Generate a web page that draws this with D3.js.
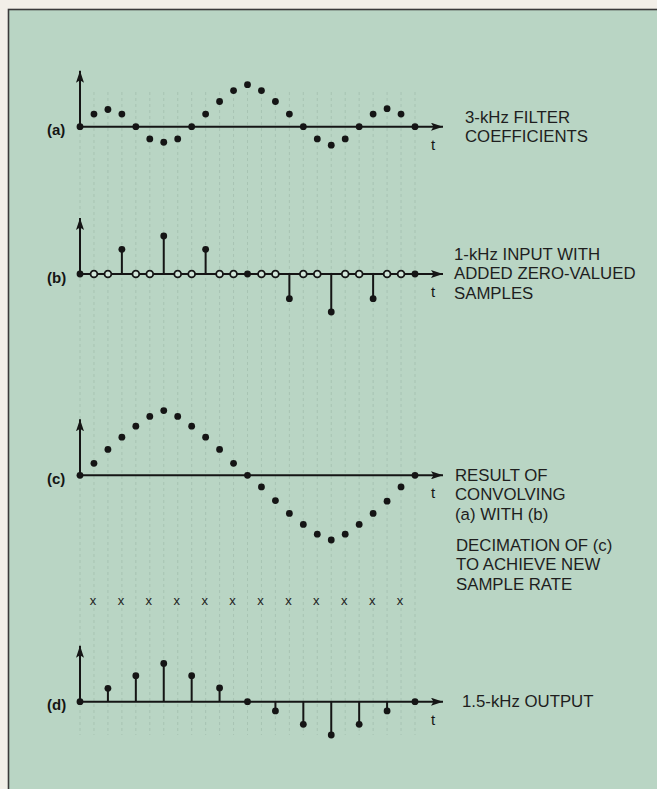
<!DOCTYPE html>
<html><head><meta charset="utf-8">
<script src="https://cdn.jsdelivr.net/npm/d3@7"></script>
<style>
html,body{margin:0;padding:0;background:#f2efe8;}
svg{display:block;}
</style></head>
<body>
<svg id="chart" width="657" height="789"></svg>
<script>
// ---- data (sample index 0..24) ----
const sampleIndex = d3.range(0, 25);
const filterCoeffs = [0, 0.30, 0.41, 0.30, 0, -0.29, -0.37, -0.29, 0, 0.30, 0.60, 0.86, 1.0, 0.86, 0.60, 0.30, 0, -0.29, -0.44, -0.29, 0, 0.30, 0.43, 0.30, 0];
const inputSamples = [0, 0, 0, 0.65, 0, 0, 1.0, 0, 0, 0.65, 0, 0, 0, 0, 0, -0.65, 0, 0, -1.0, 0, 0, -0.65, 0, 0, 0];
const inputIsOriginal = [1,0,0,1,0,0,1,0,0,1,0,0,1,0,0,1,0,0,1,0,0,1,0,0,1];
const convolved = [0, 0.185, 0.40, 0.59, 0.76, 0.91, 1.0, 0.91, 0.76, 0.59, 0.40, 0.185, 0, -0.18, -0.39, -0.59, -0.76, -0.91, -1.0, -0.91, -0.76, -0.59, -0.40, -0.18, 0];
const discardedIndex = [1, 3, 5, 7, 9, 11, 13, 15, 17, 19, 21, 23];
const outputIndex = [0, 2, 4, 6, 8, 10, 12, 14, 16, 18, 20, 22, 24];
const outputValues = [0, 0.35, 0.68, 1.0, 0.68, 0.36, 0, -0.24, -0.59, -0.87, -0.59, -0.24, 0];
const panelLetters = ["(a)", "(b)", "(c)", "(d)"];
const captions = [
  ["3-kHz FILTER", "COEFFICIENTS"],
  ["1-kHz INPUT WITH", "ADDED ZERO-VALUED", "SAMPLES"],
  ["RESULT OF", "CONVOLVING", "(a) WITH (b)"],
  ["1.5-kHz OUTPUT"]
];
const decimationCaption = ["DECIMATION OF (c)", "TO ACHIEVE NEW", "SAMPLE RATE"];

// ---- layout ----
const svg = d3.select("#chart");
const ink = "#151515";
const bg = "#b9d5c4";
svg.append("rect").attr("x", 8.5).attr("y", 9.5).attr("width", 660).attr("height", 800)
  .attr("fill", bg).attr("stroke", "#3a3a3a").attr("stroke-width", 1.6);

const x = d3.scaleLinear().domain([0, 24]).range([80, 415]);

// faint dashed guide lines
svg.append("g").selectAll("line").data(sampleIndex).join("line")
  .attr("x1", d => x(d)).attr("x2", d => x(d))
  .attr("y1", 92).attr("y2", 735)
  .attr("stroke", "#8fab9b").attr("stroke-opacity", 0.4)
  .attr("stroke-width", 1).attr("stroke-dasharray", "3,3");

const panels = [
  {base: 126.7, amp: 42, capX: 465, capY: 123},
  {base: 274, amp: 38, capX: 454, capY: 260},
  {base: 475.3, amp: 64.7, capX: 455, capY: 481},
  {base: 701.7, amp: 38.3, capX: 462, capY: 706.5}
];
panels.forEach(p => { p.y = d3.scaleLinear().domain([-1, 1]).range([p.base + p.amp, p.base - p.amp]); });

const defs = svg.append("defs");
defs.append("marker").attr("id", "arr").attr("viewBox", "0 0 12 8").attr("refX", 12).attr("refY", 4)
  .attr("markerWidth", 12).attr("markerHeight", 8).attr("markerUnits", "userSpaceOnUse").attr("orient", "auto")
  .append("path").attr("d", "M0,0 L12,4 L0,8 L2.5,4 Z").attr("fill", ink);

function drawAxes(p) {
  const g = svg.append("g");
  g.append("line").attr("x1", x(0)).attr("x2", x(0)).attr("y1", p.y(0)).attr("y2", p.y(0) - 56)
    .attr("stroke", ink).attr("stroke-width", 2).attr("marker-end", "url(#arr)");
  g.append("line").attr("x1", x(0)).attr("x2", 443).attr("y1", p.y(0)).attr("y2", p.y(0))
    .attr("stroke", ink).attr("stroke-width", 2).attr("marker-end", "url(#arr)");
  g.append("text").attr("x", 433).attr("y", p.y(0) + 23).attr("text-anchor", "middle")
    .attr("font-family", "Liberation Sans, Arial, sans-serif").attr("font-size", 15).attr("fill", ink).text("t");
  return g;
}
function caption(p, lines) {
  svg.append("text").attr("font-family", "Liberation Sans, Arial, sans-serif").attr("font-size", 16.8).attr("fill", "#1e1e1e")
    .selectAll("tspan").data(lines).join("tspan")
    .attr("x", p.capX).attr("y", (d, i) => p.capY + i * 19.3).text(d => d);
}
panels.forEach((p, i) => {
  svg.append("text").attr("x", 47).attr("y", p.base + 8.5).attr("font-family", "Liberation Sans, Arial, sans-serif")
    .attr("font-weight", "bold").attr("font-size", 15).attr("fill", ink).text(panelLetters[i]);
  caption(p, captions[i]);
});

// (a) filter coefficients
{
  const p = panels[0]; const g = drawAxes(p);
  g.selectAll("circle").data(filterCoeffs).join("circle")
    .attr("cx", (d, i) => x(i)).attr("cy", d => p.y(d)).attr("r", 3.4).attr("fill", ink);
}
// (b) input with zero-stuffed samples
{
  const p = panels[1]; const g = drawAxes(p);
  g.selectAll("line.stem").data(inputSamples).join("line").attr("class", "stem")
    .attr("x1", (d, i) => x(i)).attr("x2", (d, i) => x(i)).attr("y1", p.y(0)).attr("y2", d => p.y(d))
    .attr("stroke", ink).attr("stroke-width", 2);
  g.selectAll("circle").data(inputSamples).join("circle")
    .attr("cx", (d, i) => x(i)).attr("cy", d => p.y(d))
    .attr("r", (d, i) => inputIsOriginal[i] ? 3.4 : 3.4)
    .attr("fill", (d, i) => inputIsOriginal[i] ? ink : "#d2e6da")
    .attr("stroke", ink).attr("stroke-width", (d, i) => inputIsOriginal[i] ? 0 : 1.8);
}
// (c) convolution result
{
  const p = panels[2]; const g = drawAxes(p);
  g.selectAll("circle").data(convolved).join("circle")
    .attr("cx", (d, i) => x(i)).attr("cy", d => p.y(d)).attr("r", 3.4).attr("fill", ink);
}
// decimation marks
svg.append("g").selectAll("text").data(discardedIndex).join("text")
  .attr("x", d => x(d) - 1).attr("y", 604.5).attr("text-anchor", "middle")
  .attr("font-family", "Liberation Sans, Arial, sans-serif").attr("font-size", 13).attr("fill", "#222").text("x");
caption({capX: 456, capY: 551}, decimationCaption);
// (d) output
{
  const p = panels[3]; const g = drawAxes(p);
  g.selectAll("line.stem").data(outputValues).join("line").attr("class", "stem")
    .attr("x1", (d, i) => x(outputIndex[i])).attr("x2", (d, i) => x(outputIndex[i]))
    .attr("y1", p.y(0)).attr("y2", d => p.y(d)).attr("stroke", ink).attr("stroke-width", 2);
  g.selectAll("circle").data(outputValues).join("circle")
    .attr("cx", (d, i) => x(outputIndex[i])).attr("cy", d => p.y(d)).attr("r", 3.4).attr("fill", ink);
}
</script>
</body></html>
